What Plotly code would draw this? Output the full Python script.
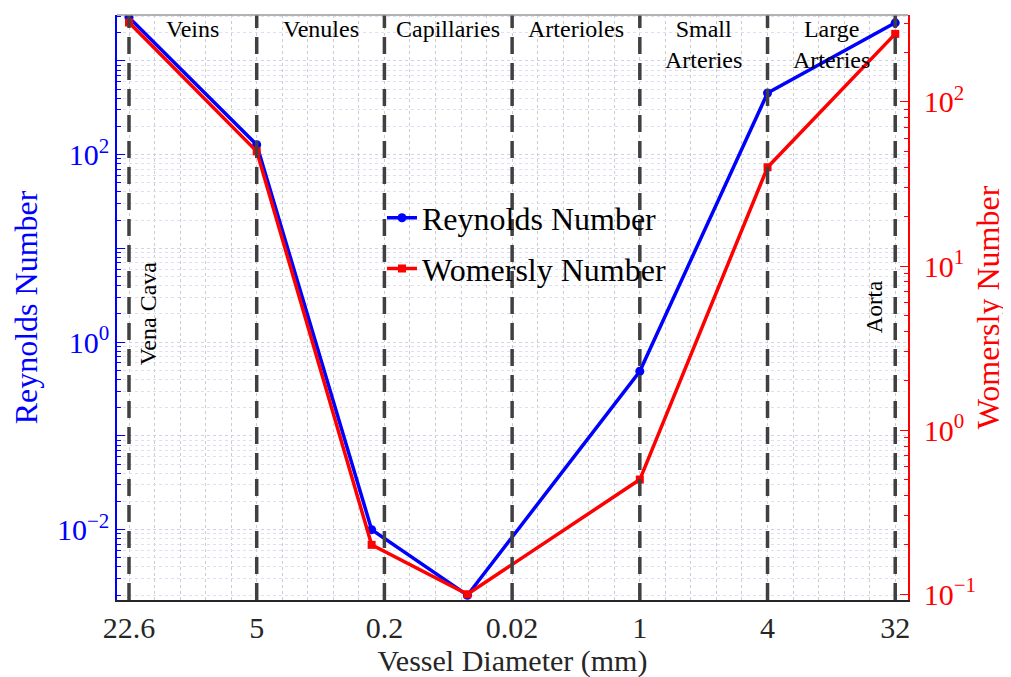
import plotly.graph_objects as go

# ---- data ----
diameter_labels = ["22.6", "5", "0.2", "0.02", "1", "4", "32"]
tick_positions = [0, 1, 2, 3, 4, 5, 6]
point_positions = [0, 1, 1.9, 2.65, 4, 5, 6]
reynolds = [2900, 128, 0.01, 0.002, 0.49, 455, 2550]
womersley = [305, 50, 0.2, 0.1, 0.5, 40, 260]
regions = ["Veins", "Venules", "Capillaries", "Arterioles", "Small<br>Arteries", "Large<br>Arteries"]

FONT = "Liberation Serif"
BLUE = "#0000ff"
RED = "#ff0000"

fig = go.Figure()
fig.add_trace(go.Scatter(
    x=point_positions, y=reynolds, name="Reynolds Number", mode="lines+markers",
    line=dict(color=BLUE, width=3.5), marker=dict(symbol="circle", size=9, color=BLUE),
    yaxis="y", legendgroup="re"))
fig.add_trace(go.Scatter(
    x=point_positions, y=womersley, name="Womersly Number", mode="lines+markers",
    line=dict(color=RED, width=3.5), marker=dict(symbol="square", size=8, color=RED),
    yaxis="y2", legendgroup="wo"))

for xv in tick_positions:
    fig.add_vline(x=xv, line=dict(color="#404040", width=3.5, dash="17px,9px"), layer="above")

for i, name in enumerate(regions):
    fig.add_annotation(x=tick_positions[i] + 0.5, xref="x", y=1.0, yref="paper",
                       yanchor="top", yshift=1, text=name, showarrow=False,
                       font=dict(family=FONT, size=24, color="black"))

fig.add_annotation(x=tick_positions[0], xref="x", xanchor="left", xshift=4, y=0.49, yref="paper",
                   text="Vena Cava", textangle=-90, showarrow=False,
                   font=dict(family=FONT, size=24, color="black"))
fig.add_annotation(x=tick_positions[-1], xref="x", xanchor="right", xshift=-6, y=0.50, yref="paper",
                   text="Aorta", textangle=-90, showarrow=False,
                   font=dict(family=FONT, size=23, color="black"))

# top frame line
fig.add_shape(type="line", xref="paper", yref="paper", x0=0, x1=1, y0=1, y1=1,
              line=dict(color="#999999", width=1.5))

fig.update_layout(
    width=1011, height=677,
    margin=dict(l=109, r=111, t=7, b=85),
    paper_bgcolor="white", plot_bgcolor="white",
    font=dict(family=FONT, size=26, color="#262626"),
    showlegend=True,
    legend=dict(x=0.335, y=0.70, xanchor="left", yanchor="top", bgcolor="rgba(0,0,0,0)",
                font=dict(family=FONT, size=32, color="black"), itemwidth=30,
                tracegroupgap=6),
    xaxis=dict(
        range=[-0.094, 6.1], tickmode="array", tickvals=tick_positions, ticktext=diameter_labels,
        showgrid=False, zeroline=False, showline=True, linecolor="#262626", linewidth=1.5,
        ticks="", tickfont=dict(family=FONT, size=30, color="#262626"),
        title=dict(text="Vessel Diameter (mm)", font=dict(family=FONT, size=30, color="#262626"), standoff=0),
        minor=dict(tickmode="linear", tick0=0, dtick=0.2, showgrid=True, gridcolor="#cccccc",
                   griddash="dot", gridwidth=1),
    ),
    yaxis=dict(
        type="log", range=[-2.75, 3.49], tickmode="array",
        tickvals=[1e-2, 1e-1, 1, 10, 100, 1000],
        ticktext=["10<sup>−2</sup>", "", "10<sup>0</sup>", "", "10<sup>2</sup>", ""],
        ticks="inside", ticklen=8, tickcolor=BLUE, tickwidth=1,
        showline=True, linecolor=BLUE, linewidth=1.5, zeroline=False,
        showgrid=True, gridcolor="#d0d0f2", griddash="dot", gridwidth=1,
        tickfont=dict(family=FONT, size=30, color=BLUE),
        title=dict(text="Reynolds Number", font=dict(family=FONT, size=32, color=BLUE), standoff=12),
        minor=dict(tickmode="linear", dtick="D1", ticks="inside", ticklen=4, tickcolor=BLUE,
                   showgrid=True, gridcolor="#dedef7", griddash="dot", gridwidth=1),
    ),
    yaxis2=dict(
        type="log", range=[-1.035, 2.53], overlaying="y", side="right", tickmode="array",
        tickvals=[0.1, 1, 10, 100],
        ticktext=["10<sup>−1</sup>", "10<sup>0</sup>", "10<sup>1</sup>", "10<sup>2</sup>"],
        ticks="inside", ticklen=8, tickcolor=RED, tickwidth=1, ticklabelstandoff=8,
        showline=True, linecolor=RED, linewidth=1.5, zeroline=False, showgrid=False,
        tickfont=dict(family=FONT, size=30, color=RED),
        title=dict(text="Womersly Number", font=dict(family=FONT, size=32, color=RED), standoff=2),
        minor=dict(tickmode="linear", dtick="D1", ticks="inside", ticklen=4, tickcolor=RED),
    ),
)

fig.write_html("out.html")
